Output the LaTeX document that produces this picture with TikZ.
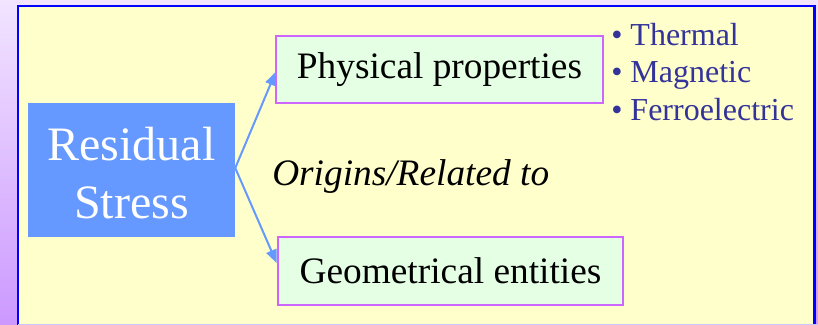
\documentclass[tikz,border=0pt]{standalone}
\usepackage{fontspec}
\setmainfont{Liberation Serif}
\usetikzlibrary{arrows.meta,calc}
\definecolor{bgtop}{HTML}{F2E4FF}
\definecolor{bgbot}{HTML}{CC99FF}
\definecolor{panel}{HTML}{FFFFCC}
\definecolor{panelline}{HTML}{0000FF}
\definecolor{resblue}{HTML}{6699FF}
\definecolor{boxfill}{HTML}{E4FFE4}
\definecolor{boxline}{HTML}{CC66FF}
\definecolor{bultext}{HTML}{333399}
\tikzset{
  propbox/.style={draw=boxline, line width=2pt, fill=boxfill, inner sep=0pt,
    font=\fontsize{28}{33}\selectfont, text=black},
  resbox/.style={fill=resblue, inner sep=0pt, text=white, align=center,
    font=\fontsize{36}{43}\selectfont},
  link/.style={draw=resblue, line width=1.5pt, -{Triangle[length=10pt,width=8pt]}},
  bullet/.style={anchor=base west, inner sep=0pt, text=bultext,
    font=\fontsize{24}{28}\selectfont},
}
\begin{document}
\begin{tikzpicture}[x=0.75pt,y=-0.75pt]
\useasboundingbox (0,0) rectangle (818,325);
\clip (0,0) rectangle (818,325);
\shade[top color=bgtop, bottom color=bgbot] (0,0) rectangle (818,325);
\filldraw[fill=panel, draw=panelline, line width=2pt] (18,6) rectangle (814.5,335);
\draw[draw=bgtop!60!blue!50, line width=1.2pt] (18,324.3) -- (818,324.3);

\node[resbox, minimum width=155.25pt, minimum height=100.5pt] (res) at (131.5,170) {};
\node[text=white, align=center, inner sep=0pt, font=\fontsize{36}{43}\selectfont] (restext) at (131.5,173) {Residual\\Stress};
\node[propbox, minimum width=245.25pt, minimum height=50.25pt] (phys) at (439.5,69.5) {Physical properties};
\node[propbox, minimum width=258.75pt, minimum height=51pt] (geo) at (450.5,271) {Geometrical entities};

\coordinate (j) at ($(res.east)+(0,-2)$);
\draw[link] (j) -- ($(phys.west)+(1,2.5)$);
\draw[link] (j) -- ($(geo.west)+(0,-8)$);

\node[anchor=base west, inner sep=0pt, font=\fontsize{28}{33}\selectfont\itshape] (orig) at (272,185) {Origins/Related to};

\node[bullet] (b1) at (611,45) {• Thermal};
\node[bullet] (b2) at (611,82.5) {• Magnetic};
\node[bullet] (b3) at (611,120) {• Ferroelectric};
\end{tikzpicture}
\end{document}
